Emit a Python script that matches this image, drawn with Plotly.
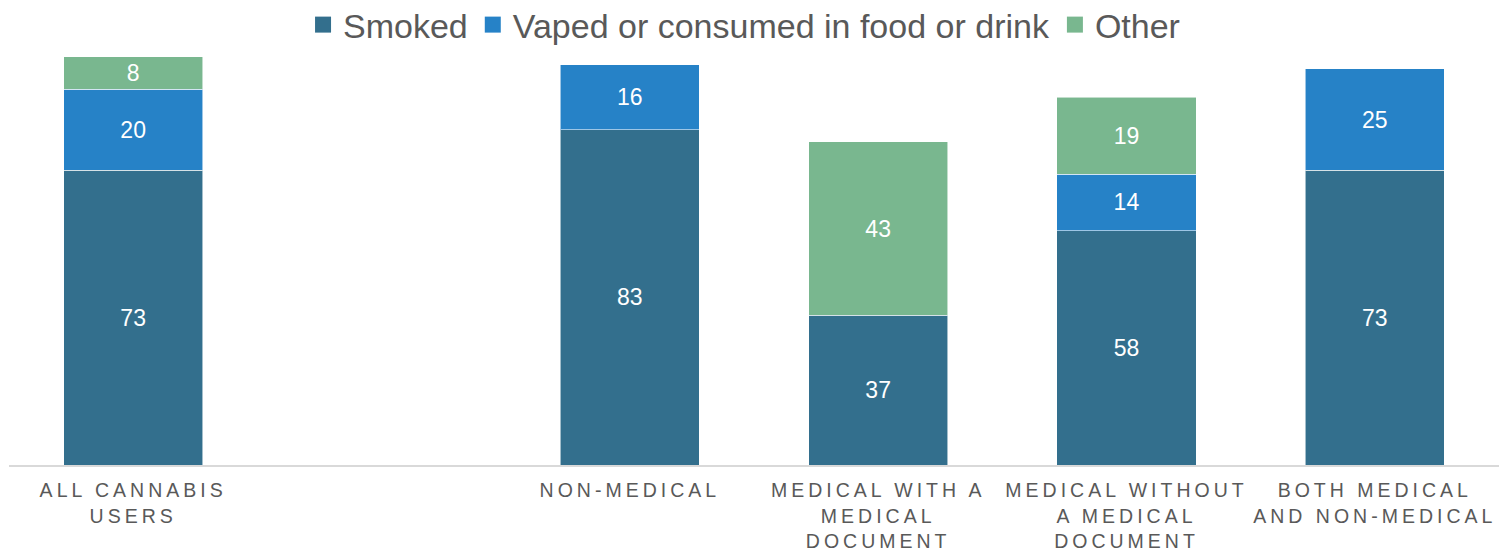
import plotly.graph_objects as go

categories = [
    "ALL CANNABIS<br>USERS",
    " ",
    "NON-MEDICAL",
    "MEDICAL WITH A<br>MEDICAL<br>DOCUMENT",
    "MEDICAL WITHOUT<br>A MEDICAL<br>DOCUMENT",
    "BOTH MEDICAL<br>AND NON-MEDICAL",
]
smoked = [73, None, 83, 37, 58, 73]
vaped = [20, None, 16, None, 14, 25]
other = [8, None, None, 43, 19, None]

series_names = ["Smoked", "Vaped or consumed in food or drink", "Other"]
series_colors = ["#336F8D", "#2682C7", "#79B78F"]
series_values = [smoked, vaped, other]

FONT = "Arial, Liberation Sans, sans-serif"

fig = go.Figure()
for name, color, vals in zip(series_names, series_colors, series_values):
    fig.add_trace(go.Bar(
        x=categories, y=vals, name=name,
        marker=dict(color=color, line=dict(color="rgba(255,255,255,0.55)", width=1)),
        text=[("" if v is None else str(v)) for v in vals],
        textposition="inside", insidetextanchor="middle",
        textangle=0, constraintext="none",
        textfont=dict(color="white", size=23, family=FONT),
        showlegend=False, hoverinfo="skip",
    ))
# legend entries with larger square symbols
for name, color in zip(series_names, series_colors):
    fig.add_trace(go.Scatter(
        x=[None], y=[None], mode="markers", name=name,
        marker=dict(symbol="square", size=17, color=color),
        showlegend=True,
    ))

fig.update_layout(
    width=1501, height=551,
    barmode="stack", bargap=0.44,
    paper_bgcolor="white", plot_bgcolor="white",
    margin=dict(l=9, r=2, t=50, b=86, autoexpand=False),
    font=dict(family=FONT, color="#595959"),
    uniformtext=dict(minsize=23, mode="show"),
    legend=dict(
        orientation="h", xref="container", yref="container",
        x=0.4957, xanchor="center", y=0.9546, yanchor="middle",
        font=dict(size=34, color="#595959", family=FONT),
        itemsizing="trace", traceorder="normal",
    ),
    xaxis=dict(
        type="category", categoryorder="array", categoryarray=categories,
        showline=True, linecolor="#D9D9D9", linewidth=2,
        showgrid=False, zeroline=False, ticks="",
        tickfont=dict(size=19.5, color="#595959", family=FONT),
        ticklabelstandoff=7,
        automargin=False,
        fixedrange=True,
    ),
    yaxis=dict(visible=False, range=[0, 102.7], fixedrange=True),
)

post = """
var gd = document.getElementById('{plot_id}');
gd.querySelectorAll('.xtick text').forEach(function(t){
  t.style.letterSpacing = '4px';
});
"""
fig.write_html("out.html", post_script=post)
